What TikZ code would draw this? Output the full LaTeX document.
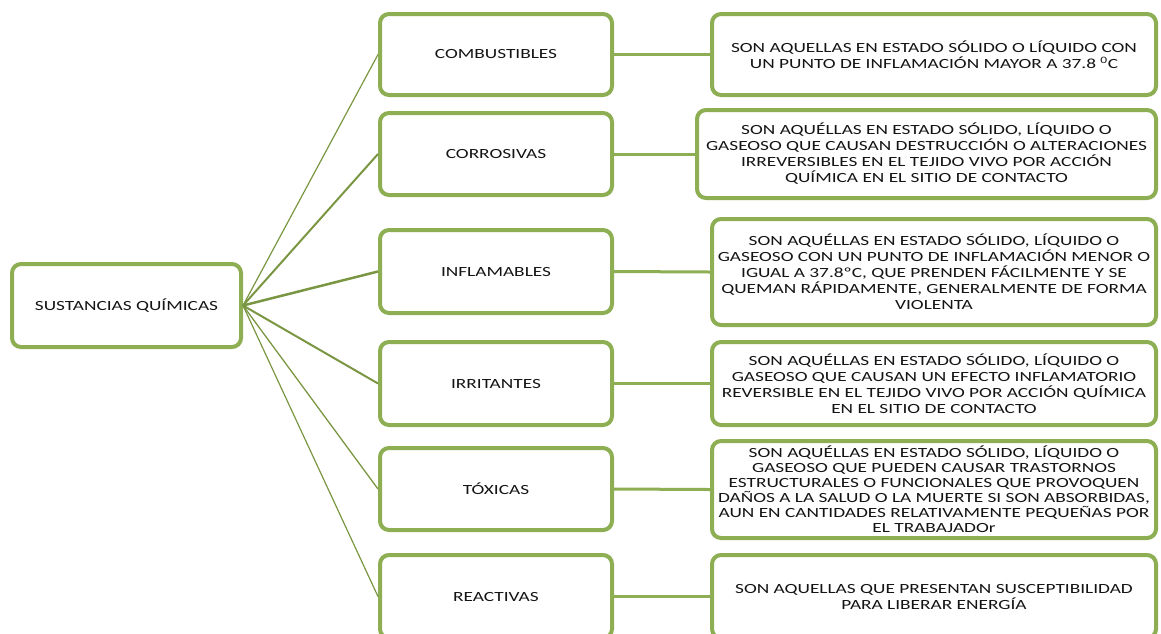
\documentclass[tikz,border=0pt]{standalone}
\usepackage{fontspec}
\newfontfamily\boxfont[FakeStretch=1.38]{Carlito}
\definecolor{olive}{RGB}{141,174,82}
\definecolor{olivedark}{RGB}{122,150,66}
\definecolor{txt}{RGB}{20,20,20}
\begin{document}
\begin{tikzpicture}[x=1pt,y=-1pt,
  box/.style={draw=olive, line width=4pt, rounded corners=9pt, fill=white,
    align=center, inner sep=0pt, text=txt,
    font=\boxfont\fontsize{14}{16}\selectfont},
  midbox/.style={box, minimum width=232pt, minimum height=82pt},
  descbox/.style={box, minimum width=444pt},
  rootline/.style={draw=olivedark},
  sideline/.style={draw=olive, line width=3pt}]
\useasboundingbox (0,0) rectangle (1161,633);
\clip (0,0) rectangle (1161,633);
% root
\node[box, minimum width=229pt, minimum height=83pt] (root) at (126.5,305.5) {SUSTANCIAS QUÍMICAS};
% middle
\node[midbox, minimum height=81pt] (m1) at (496,54.5) {COMBUSTIBLES};
\node[midbox] (m2) at (496,154) {CORROSIVAS};
\node[midbox, minimum height=83pt] (m3) at (496,271.5) {INFLAMABLES};
\node[midbox, minimum height=83pt] (m4) at (496,383.5) {IRRITANTES};
\node[midbox] (m5) at (496,489) {TÓXICAS};
\node[midbox, minimum height=83pt] (m6) at (496,596.5) {REACTIVAS};
% descriptions
\node[descbox, minimum height=81pt] (d1) at (934,54.5) {SON AQUELLAS EN ESTADO SÓLIDO O LÍQUIDO CON\\UN PUNTO DE INFLAMACIÓN MAYOR A 37.8 \textsuperscript{0}C};
\node[box, minimum width=459pt, minimum height=88pt] (d2) at (926.5,154) {SON AQUÉLLAS EN ESTADO SÓLIDO, LÍQUIDO O\\GASEOSO QUE CAUSAN DESTRUCCIÓN O ALTERACIONES\\IRREVERSIBLES EN EL TEJIDO VIVO POR ACCIÓN\\QUÍMICA EN EL SITIO DE CONTACTO};
\node[descbox, minimum height=106pt] (d3) at (934,272) {SON AQUÉLLAS EN ESTADO SÓLIDO, LÍQUIDO O\\GASEOSO CON UN PUNTO DE INFLAMACIÓN MENOR O\\IGUAL A 37.8ºC, QUE PRENDEN FÁCILMENTE Y SE\\QUEMAN RÁPIDAMENTE, GENERALMENTE DE FORMA\\VIOLENTA};
\node[descbox, minimum height=83pt] (d4) at (934,383.5) {SON AQUÉLLAS EN ESTADO SÓLIDO, LÍQUIDO O\\GASEOSO QUE CAUSAN UN EFECTO INFLAMATORIO\\REVERSIBLE EN EL TEJIDO VIVO POR ACCIÓN QUÍMICA\\EN EL SITIO DE CONTACTO};
\node[descbox, minimum height=97pt, font=\boxfont\fontsize{14}{15}\selectfont] (d5) at (934,489.5) {SON AQUÉLLAS EN ESTADO SÓLIDO, LÍQUIDO O\\GASEOSO QUE PUEDEN CAUSAR TRASTORNOS\\ESTRUCTURALES O FUNCIONALES QUE PROVOQUEN\\DAÑOS A LA SALUD O LA MUERTE SI SON ABSORBIDAS,\\AUN EN CANTIDADES RELATIVAMENTE PEQUEÑAS POR\\EL TRABAJADOr};
\node[descbox, minimum height=83pt] (d6) at (934,596.5) {SON AQUELLAS QUE PRESENTAN SUSCEPTIBILIDAD\\PARA LIBERAR ENERGÍA};
% connectors
\draw[rootline, line width=1.2pt] (root.east) -- (m1.west);
\draw[rootline, line width=2pt] (root.east) -- (m2.west);
\draw[rootline, line width=2.5pt] (root.east) -- (m3.west);
\draw[rootline, line width=2pt] (root.east) -- (m4.west);
\draw[rootline, line width=1.3pt] (root.east) -- (m5.west);
\draw[rootline, line width=1.2pt] (root.east) -- (m6.west);
\foreach \i in {1,...,6} {\draw[sideline] (m\i.east) -- (d\i.west);}
\end{tikzpicture}
\end{document}
